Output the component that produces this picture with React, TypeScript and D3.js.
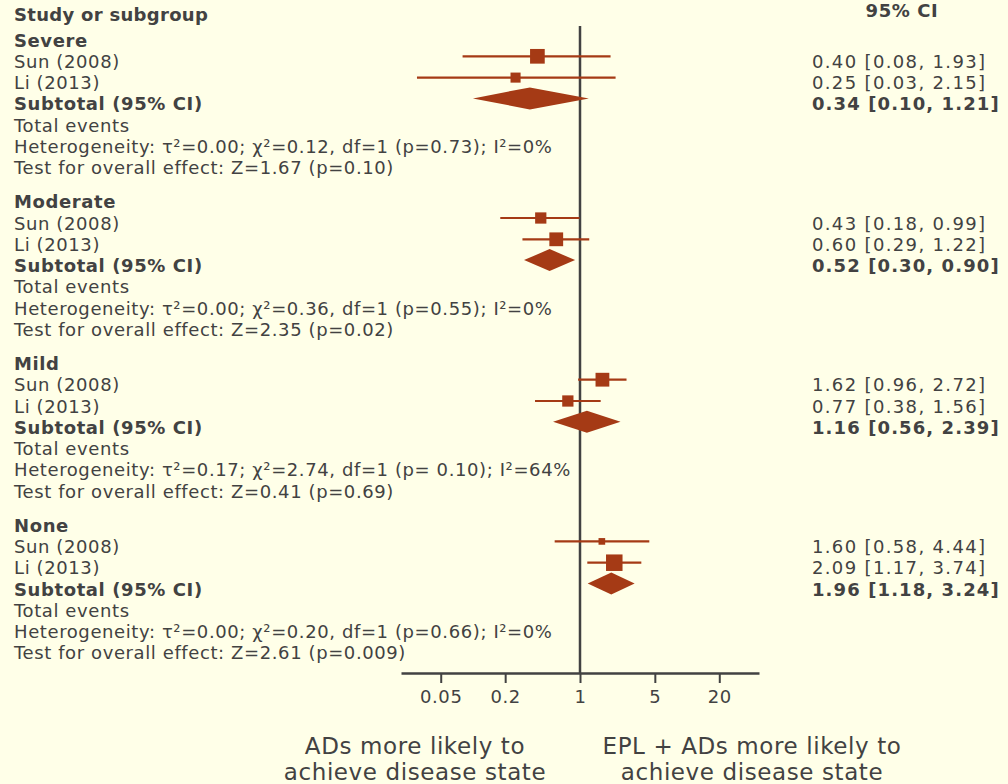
import React, { useEffect, useRef } from 'react'
import * as d3 from 'd3'

// subgroups and studies
const groups = ['Severe', 'Moderate', 'Mild', 'None']
const studyNames = ['Sun (2008)', 'Li (2013)']
const studyOR = [[0.40, 0.25], [0.43, 0.60], [1.62, 0.77], [1.60, 2.09]]
const studyLo = [[0.08, 0.03], [0.18, 0.29], [0.96, 0.38], [0.58, 1.17]]
const studyHi = [[1.93, 2.15], [0.99, 1.22], [2.72, 1.56], [4.44, 3.74]]
const studyWeight = [[68, 32], [40, 60], [60, 40], [14, 86]]
const subOR = [0.34, 0.52, 1.16, 1.96]
const subLo = [0.10, 0.30, 0.56, 1.18]
const subHi = [1.21, 0.90, 2.39, 3.24]
const heterogeneity = [
  'Heterogeneity: τ²=0.00; χ²=0.12, df=1 (p=0.73); I²=0%',
  'Heterogeneity: τ²=0.00; χ²=0.36, df=1 (p=0.55); I²=0%',
  'Heterogeneity: τ²=0.17; χ²=2.74, df=1 (p= 0.10); I²=64%',
  'Heterogeneity: τ²=0.00; χ²=0.20, df=1 (p=0.66); I²=0%',
]
const overallEffect = [
  'Test for overall effect: Z=1.67 (p=0.10)',
  'Test for overall effect: Z=2.35 (p=0.02)',
  'Test for overall effect: Z=0.41 (p=0.69)',
  'Test for overall effect: Z=2.61 (p=0.009)',
]
const tickValues = [0.05, 0.2, 1, 5, 20]
const leftLabel = ['ADs more likely to', 'achieve disease state']
const rightLabel = ['EPL + ADs more likely to', 'achieve disease state']

const W = 1008
const H = 784
const TEXT = '#424242'
const MARK = '#a53a15'
const FONT = '"DejaVu Sans", Verdana, sans-serif'

export default function App() {
  const ref = useRef<SVGSVGElement>(null)

  useEffect(() => {
    const svg = d3.select(ref.current)
    svg.selectAll('*').remove()

    const x = d3.scaleLog().domain([1 / 47, 47]).range([401, 759])
    const size = d3.scaleSqrt().domain([0, 100]).range([0, 17.8])
    const rowH = 21.3
    const groupStep = 161.7
    const base = (g: number, i: number) => 46.5 + g * groupStep + i * rowH
    const ci = (o: number, l: number, h: number) => `${o.toFixed(2)} [${l.toFixed(2)}, ${h.toFixed(2)}]`

    svg.append('rect').attr('width', W).attr('height', H).attr('fill', '#ffffe8')

    const txt = svg.append('g').attr('font-family', FONT).attr('font-size', 18)
      .attr('letter-spacing', 0.6).attr('fill', TEXT)
    txt.append('text').attr('x', 14).attr('y', 21).attr('font-weight', 'bold')
      .attr('letter-spacing', 0.3).text('Study or subgroup')
    txt.append('text').attr('x', 902).attr('y', 17).attr('text-anchor', 'middle').attr('font-weight', 'bold').text('95% CI')

    const right = svg.append('g').attr('font-family', FONT).attr('font-size', 18).attr('fill', TEXT)

    groups.forEach((name, g) => {
      const rows: [string, boolean][] = [
        [name, true],
        [studyNames[0], false],
        [studyNames[1], false],
        ['Subtotal (95% CI)', true],
        ['Total events', false],
        [heterogeneity[g], false],
        [overallEffect[g], false],
      ]
      rows.forEach(([t, b], i) => {
        txt.append('text').attr('x', 14).attr('y', base(g, i))
          .attr('font-weight', b ? 'bold' : 'normal').text(t)
      })
      studyNames.forEach((_, s) => {
        right.append('text').attr('x', 812).attr('y', base(g, s + 1)).attr('letter-spacing', 1.35)
          .text(ci(studyOR[g][s], studyLo[g][s], studyHi[g][s]))
      })
      right.append('text').attr('x', 812).attr('y', base(g, 3)).attr('font-weight', 'bold')
        .attr('letter-spacing', 1.1).text(ci(subOR[g], subLo[g], subHi[g]))
    })

    // line of no effect
    svg.append('line').attr('x1', x(1)).attr('x2', x(1)).attr('y1', 26).attr('y2', 673)
      .attr('stroke', TEXT).attr('stroke-width', 2.5)

    const marks = svg.append('g')
    groups.forEach((_, g) => {
      studyNames.forEach((_, s) => {
        const y = base(g, s + 1) - 11.5
        marks.append('line').attr('x1', x(studyLo[g][s])).attr('x2', x(studyHi[g][s]))
          .attr('y1', y).attr('y2', y).attr('stroke', MARK).attr('stroke-width', 2.2)
        const sz = size(studyWeight[g][s])
        marks.append('rect').attr('x', x(studyOR[g][s]) - sz / 2).attr('y', y - sz / 2)
          .attr('width', sz).attr('height', sz).attr('fill', MARK)
      })
      const y = base(g, 3) - 12
      const pts: [number, number][] = [
        [x(subLo[g]), y], [x(subOR[g]), y - 11], [x(subHi[g]), y], [x(subOR[g]), y + 11],
      ]
      marks.append('path').attr('d', d3.line()(pts) + 'Z').attr('fill', MARK)
    })

    const axis = svg.append('g').attr('transform', 'translate(0,673)')
      .call(d3.axisBottom(x).tickValues(tickValues).tickSize(10).tickSizeOuter(0)
        .tickFormat(d => String(d)))
    axis.select('.domain').attr('stroke', TEXT).attr('stroke-width', 2.5)
    axis.selectAll('.tick line').attr('stroke', TEXT).attr('stroke-width', 2)
    axis.selectAll('.tick text').attr('fill', TEXT).attr('font-family', FONT)
      .attr('font-size', 18).attr('letter-spacing', 0.6).attr('dy', 0).attr('y', 30)

    const lab = svg.append('g').attr('font-family', FONT).attr('font-size', 23)
      .attr('letter-spacing', 0.6).attr('fill', TEXT).attr('text-anchor', 'middle')
    leftLabel.forEach((t, i) => lab.append('text').attr('x', 415).attr('y', 754 + i * 26).text(t))
    rightLabel.forEach((t, i) => lab.append('text').attr('x', 752).attr('y', 754 + i * 26).text(t))
  }, [])

  return (
    <svg ref={ref} width={W} height={H}
      style={{ position: 'fixed', left: 0, top: 0, display: 'block' }} />
  )
}
